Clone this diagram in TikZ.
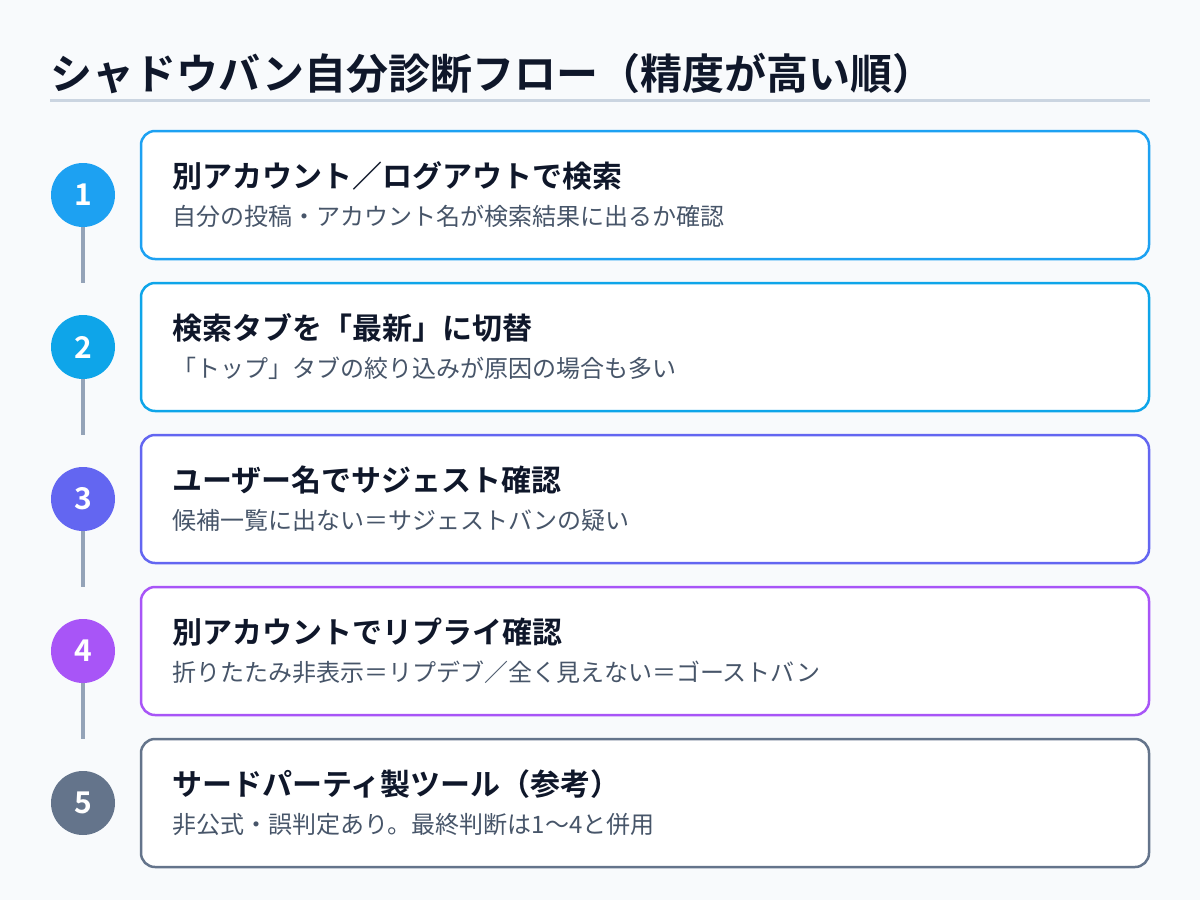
\documentclass[tikz,border=0pt]{standalone}
\usepackage{fontspec}
\setmainfont{Noto Sans CJK JP}[BoldFont={Noto Sans CJK JP Bold}]
\definecolor{bg}{HTML}{F8FAFC}
\definecolor{ink}{HTML}{0F172A}
\definecolor{sub}{HTML}{475569}
\definecolor{rule}{HTML}{CBD5E1}
\definecolor{conn}{HTML}{94A3B8}
\definecolor{cA}{HTML}{1DA1F2}
\definecolor{cB}{HTML}{0EA5E9}
\definecolor{cC}{HTML}{6366F1}
\definecolor{cD}{HTML}{A855F7}
\definecolor{cE}{HTML}{64748B}
\tikzset{
  card/.style={draw=#1, line width=2.5pt, fill=white, rounded corners=14pt},
  badge/.style={circle, fill=#1, minimum size=64pt, inner sep=0pt, text=white, font=\fontsize{30}{34}\selectfont\bfseries},
  ttl/.style={anchor=base west, inner sep=0pt, text=ink, font=\fontsize{30}{34}\selectfont\bfseries},
  subt/.style={anchor=base west, inner sep=0pt, text=sub, font=\fontsize{24}{28}\selectfont},
  link/.style={draw=conn, line width=3.5pt}
}
\begin{document}
\begin{tikzpicture}[x=1pt,y=-1pt]
\fill[bg] (0,0) rectangle (1200,900);
\useasboundingbox (0,0) rectangle (1200,900);
\node[anchor=base west, inner sep=0pt, text=ink, font=\fontsize{42}{46}\selectfont\bfseries] (title) at (50,89) {シャドウバン自分診断フロー（精度が高い順）};
\coordinate (rl) at (50,100);
\coordinate (rr) at (1150,100);
\draw[rule, line width=3pt] (rl) -- (rr);
\foreach \i/\c/\t/\s in {
 1/cA/別アカウント／ログアウトで検索/自分の投稿・アカウント名が検索結果に出るか確認,
 2/cB/検索タブを「最新」に切替/「トップ」タブの絞り込みが原因の場合も多い,
 3/cC/ユーザー名でサジェスト確認/候補一覧に出ない＝サジェストバンの疑い,
 4/cD/別アカウントでリプライ確認/折りたたみ非表示＝リプデブ／全く見えない＝ゴーストバン,
 5/cE/サードパーティ製ツール（参考）/非公式・誤判定あり。最終判断は1〜4と併用}{
 \pgfmathsetmacro{\yc}{195+152*(\i-1)}
 \draw[card=\c] (141,\yc-64) rectangle (1149,\yc+64);
 \node[ttl] (t\i) at (172,\yc-8) {\t};
 \node[subt] (s\i) at (172,\yc+30) {\s};
 \node[badge=\c] (b\i) at (83,\yc) {\i};
}
\foreach \i in {1,...,4}{
 \coordinate (e\i) at ([yshift=-56pt]b\i.south);
 \draw[link] (b\i.south) -- (e\i);
}
\end{tikzpicture}
\end{document}
